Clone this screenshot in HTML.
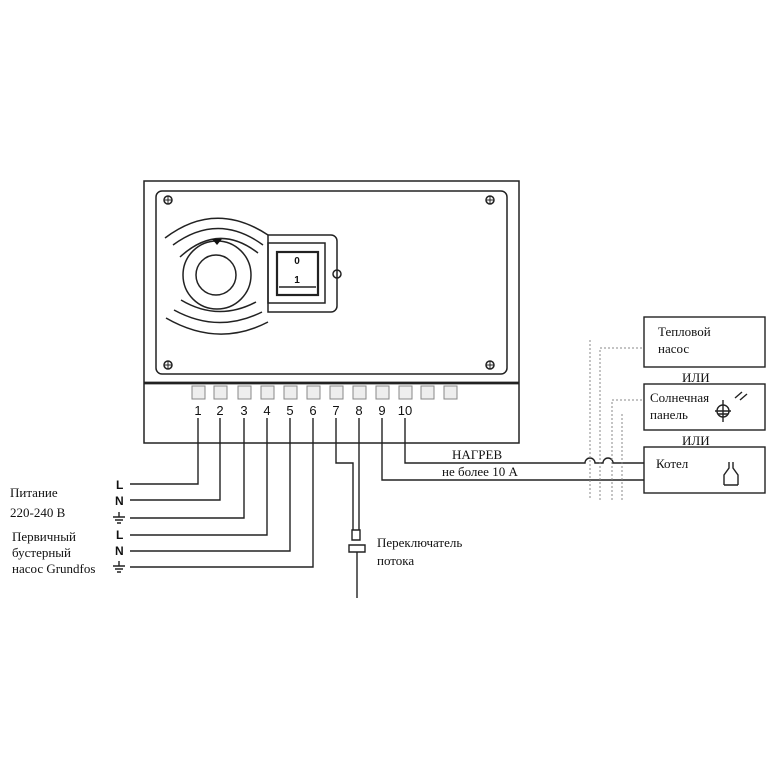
<!DOCTYPE html>
<html><head><meta charset="utf-8"><style>
html,body{margin:0;padding:0;background:#fff;}
text{font-family:"Liberation Serif",serif;fill:#111;}
.s{font-family:"Liberation Sans",sans-serif;}
</style></head><body>
<svg width="768" height="768" viewBox="0 0 768 768" xmlns="http://www.w3.org/2000/svg">
<g fill="none" stroke="#222" stroke-width="1.5">
<rect x="144" y="181" width="375" height="262"/>
<rect x="156" y="191" width="351" height="183" rx="6"/>
<line x1="144" y1="383" x2="519" y2="383" stroke-width="2.8"/>
<!-- screws -->
<circle cx="168" cy="200" r="4"/><circle cx="490" cy="200" r="4"/>
<circle cx="168" cy="365" r="4"/><circle cx="490" cy="365" r="4"/>
<path d="M164 200 H172 M168 196 V204 M486 200 H494 M490 196 V204 M164 365 H172 M168 361 V369 M486 365 H494 M490 361 V369" stroke-width="1"/>
<!-- arcs -->
<path d="M165 238 Q215 200 268 235"/>
<path d="M173 245 Q218 212 263 245"/>
<path d="M180 257 Q218 222 258 253"/>
<path d="M181 300 Q218 322 256 302"/>
<path d="M174 310 Q218 334 262 312"/>
<path d="M166 318 Q218 348 268 322"/>
<circle cx="217" cy="275" r="34"/>
<circle cx="216" cy="275" r="20"/>
<path d="M268 235 H331 a6 6 0 0 1 6 6 V306 a6 6 0 0 1 -6 6 H268 Z"/>
<rect x="268" y="243" width="57" height="60"/>
<rect x="277" y="252" width="41" height="43" stroke-width="2.2"/>
<line x1="279" y1="287" x2="316" y2="287"/>
<circle cx="337" cy="274" r="4"/>
</g>
<polygon points="212,239 222,239 217,245" fill="#111"/>
<text x="297" y="264" font-size="10" font-weight="bold" text-anchor="middle" class="s">0</text>
<text x="297" y="283" font-size="10" font-weight="bold" text-anchor="middle" class="s">1</text>
<!-- terminals -->
<g fill="#eee" stroke="#888" stroke-width="1">
<rect x="192" y="386" width="13" height="13"/><rect x="214" y="386" width="13" height="13"/>
<rect x="238" y="386" width="13" height="13"/><rect x="261" y="386" width="13" height="13"/>
<rect x="284" y="386" width="13" height="13"/><rect x="307" y="386" width="13" height="13"/>
<rect x="330" y="386" width="13" height="13"/><rect x="353" y="386" width="13" height="13"/>
<rect x="376" y="386" width="13" height="13"/><rect x="399" y="386" width="13" height="13"/>
<rect x="421" y="386" width="13" height="13"/><rect x="444" y="386" width="13" height="13"/>
</g>
<g font-size="13" text-anchor="middle" class="s">
<text x="198" y="415" class="s">1</text><text x="220" y="415" class="s">2</text><text x="244" y="415" class="s">3</text>
<text x="267" y="415" class="s">4</text><text x="290" y="415" class="s">5</text><text x="313" y="415" class="s">6</text>
<text x="336" y="415" class="s">7</text><text x="359" y="415" class="s">8</text><text x="382" y="415" class="s">9</text>
<text x="405" y="415" class="s">10</text>
</g>
<!-- wires -->
<g fill="none" stroke="#222" stroke-width="1.4">
<path d="M198 418 V484 H130"/>
<path d="M220 418 V500 H130"/>
<path d="M244 418 V518 H130"/>
<path d="M267 418 V535 H130"/>
<path d="M290 418 V551 H130"/>
<path d="M313 418 V567 H130"/>
<path d="M336 418 V463 H353 V530"/>
<path d="M359 418 V530"/>
<path d="M382 418 V480 H644"/>
<path d="M405 418 V463 H585 a5 5 0 0 1 10 0 H603 a5 5 0 0 1 10 0 H644"/>
<rect x="644" y="317" width="121" height="50"/>
<rect x="644" y="384" width="121" height="46"/>
<rect x="644" y="447" width="121" height="46"/>
<path d="M724 485 V475 L729 468 V462 M738 485 V475 L733 468 V462 M724 485 H738"/>
<circle cx="723" cy="411" r="6"/>
<path d="M715 411 H731 M718 414 H728 M723 400 V422 M735 398 L742 392 M740 400 L747 394"/>
<path d="M352 530 H360 V540 H352 Z M349 545 H365 V552 H349 Z M357 552 V598"/>
</g>
<g fill="none" stroke="#888" stroke-width="1" stroke-dasharray="2,2">
<path d="M590 340 V500"/>
<path d="M600 500 V348 H644"/>
<path d="M612 500 V400 H644"/>
<path d="M622 500 V412"/>
</g>
<g font-size="13">
<text x="10" y="497">Питание</text>
<text x="10" y="517">220-240 В</text>
<text x="12" y="541">Первичный</text>
<text x="12" y="557">бустерный</text>
<text x="12" y="573">насос Grundfos</text>
<text x="377" y="547">Переключатель</text>
<text x="377" y="565">потока</text>
<text x="452" y="459">НАГРЕВ</text>
<text x="442" y="476">не более 10 А</text>
<text x="658" y="336">Тепловой</text>
<text x="658" y="353">насос</text>
<text x="682" y="382">ИЛИ</text>
<text x="650" y="402">Солнечная</text>
<text x="650" y="419">панель</text>
<text x="682" y="445">ИЛИ</text>
<text x="656" y="468">Котел</text>
</g>
<g font-size="12" font-weight="bold" class="s">
<text x="116" y="489" class="s">L</text><text x="115" y="505" class="s">N</text>
<text x="116" y="539" class="s">L</text><text x="115" y="555" class="s">N</text>
</g>
<g stroke="#222" stroke-width="1.4">
<path d="M119 512 V517 M113 517 H125 M115 520 H123 M117 523 H121"/>
<path d="M119 561 V566 M113 566 H125 M115 569 H123 M117 572 H121"/>
</g>
</svg>
</body></html>
